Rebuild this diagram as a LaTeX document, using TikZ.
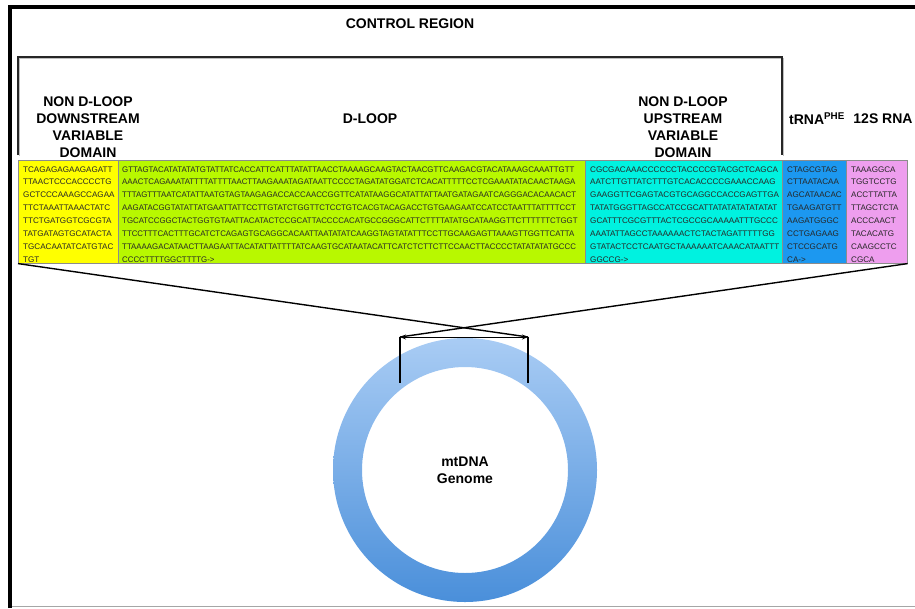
\documentclass[tikz,border=0pt]{standalone}
\usepackage{fontspec}
\setmainfont{Liberation Sans}
\usetikzlibrary{arrows.meta}

\definecolor{yellowbox}{HTML}{FFFF00}
\definecolor{greenbox}{HTML}{B8F800}
\definecolor{cyanbox}{HTML}{00F2E0}
\definecolor{bluebox}{HTML}{1C98F0}
\definecolor{pinkbox}{HTML}{EE9EEE}
\definecolor{ringtop}{HTML}{A9CCF4}
\definecolor{ringbot}{HTML}{4A8FDA}

\begin{document}
\begin{tikzpicture}[x=1pt,y=-1pt,
    seq/.style={anchor=base west, inner sep=0pt, font=\fontsize{8.1}{10}\selectfont, text=black!85},
    lbl/.style={font=\fontsize{14}{17}\selectfont\bfseries, align=center, inner sep=0pt},
    seqbox/.style={draw=black!45, line width=0.6pt, anchor=north west, inner sep=0pt, minimum height=103pt}]
    \useasboundingbox (0,0) rectangle (915,608);

    % Frame
    \draw[line width=4pt] (10,608) -- (10,7) -- (915,7);
    \draw[black!35, line width=0.8pt] (12,606) -- (915,606);

    % Title and bracket
    \node[lbl] (ctrl) at (410,24) {CONTROL REGION};
    \draw[black!25, line width=1.6pt] (19.5,156) -- (19.5,58.5) -- (783.5,58.5) -- (783.5,156);
    \draw[black!85, line width=1.4pt] (18,155) -- (18,57) -- (782,57) -- (782,155);

    % Region labels
    \node[lbl] (down) at (88,127) {NON D-LOOP\\DOWNSTREAM\\VARIABLE\\DOMAIN};
    \node[lbl] (dloop) at (370,119) {D-LOOP};
    \node[lbl] (up) at (683,127) {NON D-LOOP\\UPSTREAM\\VARIABLE\\DOMAIN};
    \node[lbl] (trna) at (817,119) {tRNA\textsuperscript{PHE}};
    \node[lbl] (rna) at (883,119) {12S RNA};

    % Sequence boxes
    \node[seqbox, fill=yellowbox, minimum width=100pt] (ybox) at (18,160) {};
    \node[seqbox, fill=greenbox, minimum width=467pt] (gbox) at (118,160) {};
    \node[seqbox, fill=cyanbox, minimum width=197pt] (cbox) at (585,160) {};
    \node[seqbox, fill=bluebox, minimum width=64pt] (bbox) at (782,160) {};
    \node[seqbox, fill=pinkbox, minimum width=61pt] (pbox) at (846,160) {};

    % Sequences
    \begin{scope}
    \clip (ybox.north west) rectangle (ybox.south east);
    \foreach \s [count=\i from 0] in {TCAGAGAGAAGAGATT,TTAACTCCCACCCCTG,GCTCCCAAAGCCAGAA,TTCTAAATTAAACTATC,TTCTGATGGTCGCGTA,TATGATAGTGCATACTA,TGCACAATATCATGTAC,TGT}
        \node[seq] (y\i) at (23,{172+12.9*\i}) {\s};
    \end{scope}
    \begin{scope}
    \clip (gbox.north west) rectangle (gbox.south east);
    \foreach \s [count=\i from 0] in {GTTAGTACATATATATGTATTATCACCATTCATTTATATTAACCTAAAAGCAAGTACTAACGTTCAAGACGTACATAAAGCAAATTGTT,AAACTCAGAAATATTTTATTTTAACTTAAGAAATAGATAATTCCCCTAGATATGGATCTCACATTTTTCCTCGAAATATACAACTAAGA,TTTAGTTTAATCATATTAATGTAGTAAGAGACCACCAACCGGTTCATATAAGGCATATTATTAATGATAGAATCAGGGACACAACACT,AAGATACGGTATATTATGAATTATTCCTTGTATCTGGTTCTCCTGTCACGTACAGACCTGTGAAGAATCCATCCTAATTTATTTTCCT,TGCATCCGGCTACTGGTGTAATTACATACTCCGCATTACCCCACATGCCGGGCATTCTTTTATATGCATAAGGTTCTTTTTTCTGGT,TTCCTTTCACTTTGCATCTCAGAGTGCAGGCACAATTAATATATCAAGGTAGTATATTTCCTTGCAAGAGTTAAAGTTGGTTCATTA,TTAAAAGACATAACTTAAGAATTACATATTATTTTATCAAGTGCATAATACATTCATCTCTTCTTCCAACTTACCCCTATATATATGCCC,CCCCTTTTGGCTTTTG->}
        \node[seq] (g\i) at (122,{172+12.9*\i}) {\scalebox{0.97}[1]{\s}};
    \end{scope}
    \begin{scope}
    \clip (cbox.north west) rectangle (cbox.south east);
    \foreach \s [count=\i from 0] in {CGCGACAAACCCCCCTACCCCGTACGCTCAGCA,AATCTTGTTATCTTTGTCACACCCCGAAACCAAG,GAAGGTTCGAGTACGTGCAGGCCACCGAGTTGA,TATATGGGTTAGCCATCCGCATTATATATATATATAT,GCATTTCGCGTTTACTCGCCGCAAAAATTTGCCC,AAATATTAGCCTAAAAAACTCTACTAGATTTTTGG,GTATACTCCTCAATGCTAAAAAATCAAACATAATTT,GGCCG->}
        \node[seq] (c\i) at (590,{172+12.9*\i}) {\s};
    \end{scope}
    \begin{scope}
    \clip (bbox.north west) rectangle (bbox.south east);
    \foreach \s [count=\i from 0] in {CTAGCGTAG,CTTAATACAA,AGCATAACAC,TGAAGATGTT,AAGATGGGC,CCTGAGAAG,CTCCGCATG,CA->}
        \node[seq] (b\i) at (787,{172+12.9*\i}) {\s};
    \end{scope}
    \begin{scope}
    \clip (pbox.north west) rectangle (pbox.south east);
    \foreach \s [count=\i from 0] in {TAAAGGCA,TGGTCCTG,ACCTTATTA,TTAGCTCTA,ACCCAACT,TACACATG,CAAGCCTC,CGCA}
        \node[seq] (p\i) at (851,{172+12.9*\i}) {\s};
    \end{scope}

    % mtDNA ring
    \coordinate (ctr) at (465,470);
    \shade[top color=ringtop, bottom color=ringbot, even odd rule]
        (ctr) circle[radius=132pt] (ctr) circle[radius=103pt];
    \node[lbl] (genome) at (ctr) {mtDNA\\Genome};

    % Zoom marks on the ring
    \coordinate (tickL) at (400,337);
    \coordinate (tickR) at (528,337);
    \coordinate (tickLb) at (400,383);
    \coordinate (tickRb) at (528,383);
    \draw[line width=1.2pt] (tickL) -- (tickLb);
    \draw[line width=1.2pt] (tickR) -- (tickRb);
    \draw[line width=0.9pt, {Stealth[length=6pt,width=5pt]}-{Stealth[length=6pt,width=5pt]}] (tickL) -- (tickR);

    % Crossing lines from the boxes
    \draw[line width=1.4pt] (ybox.south west) -- (tickR);
    \draw[line width=1.4pt] (pbox.south east) -- (tickL);
\end{tikzpicture}
\end{document}
